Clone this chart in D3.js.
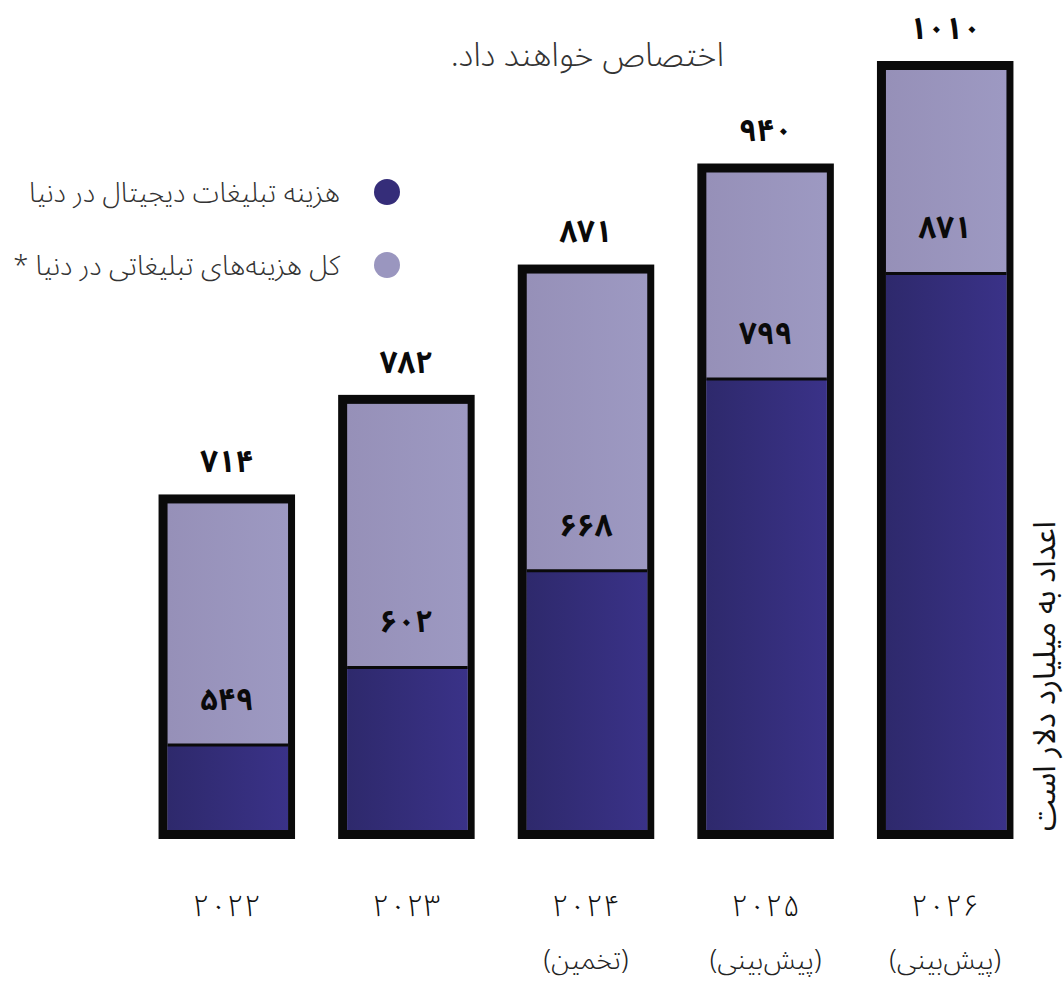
<!DOCTYPE html>
<html lang="fa">
<head>
<meta charset="utf-8">
<script src="https://cdn.jsdelivr.net/npm/d3@7"></script>
<style>
  html, body { margin: 0; padding: 0; background: #fff; }
  svg { display: block; }
  text { font-family: "Noto Sans Arabic", "DejaVu Sans", sans-serif; }
</style>
</head>
<body>
<svg id="chart" width="1064" height="984"></svg>
<script>
// Global advertising spend, billions of dollars
const years = ["2022", "2023", "2024", "2025", "2026"];
const yearNotes = ["", "", "(تخمین)", "(پیش‌بینی)", "(پیش‌بینی)"];
const totalSpend = [714, 782, 871, 940, 1010];
const digitalSpend = [549, 602, 668, 799, 871];
const legendLabels = ["هزینه تبلیغات دیجیتال در دنیا", "کل هزینه‌های تبلیغاتی در دنیا *"];
const titleText = "اختصاص خواهند داد.";
const unitNote = "اعداد به میلیارد دلار است";

const darkColor = "#352d79";
const lightColor = "#9a96bf";

const faDigits = "۰۱۲۳۴۵۶۷۸۹";
const fa = s => String(s).replace(/\d/g, d => faDigits[d]);

const svg = d3.select("#chart");
const defs = svg.append("defs");

const gDark = defs.append("linearGradient").attr("id", "gDark");
gDark.append("stop").attr("offset", "0%").attr("stop-color", "#2e296c");
gDark.append("stop").attr("offset", "100%").attr("stop-color", "#3a3288");
const gLight = defs.append("linearGradient").attr("id", "gLight");
gLight.append("stop").attr("offset", "0%").attr("stop-color", "#9690b8");
gLight.append("stop").attr("offset", "100%").attr("stop-color", "#9d99c2");

const x = d3.scaleBand()
  .domain(years)
  .range([137, 1035])
  .paddingInner(0.24)
  .paddingOuter(0.12);

const y = d3.scaleLinear()
  .domain([491, 1010])
  .range([830, 70]);

const border = 9;
const rows = years.map((yr, i) => ({
  year: yr, note: yearNotes[i], total: totalSpend[i], digital: digitalSpend[i]
}));

const bars = svg.append("g").selectAll("g.bar").data(rows).join("g").attr("class", "bar");

// heavy black outline around each bar
bars.append("rect")
  .attr("x", d => x(d.year))
  .attr("y", d => y(d.total) - border)
  .attr("width", x.bandwidth())
  .attr("height", d => y.range()[0] - y(d.total) + 2 * border)
  .attr("fill", "#0a0a0a");

// total spend (light)
bars.append("rect")
  .attr("x", d => x(d.year) + border)
  .attr("y", d => y(d.total))
  .attr("width", x.bandwidth() - 2 * border + 2)
  .attr("height", d => y.range()[0] - y(d.total))
  .attr("fill", "url(#gLight)");

// digital spend (dark)
bars.append("rect")
  .attr("x", d => x(d.year) + border)
  .attr("y", d => y(d.digital))
  .attr("width", x.bandwidth() - 2 * border + 2)
  .attr("height", d => y.range()[0] - y(d.digital))
  .attr("fill", "url(#gDark)");

// divider between the two parts
bars.append("line")
  .attr("x1", d => x(d.year) + border)
  .attr("x2", d => x(d.year) + x.bandwidth() - border + 2)
  .attr("y1", d => y(d.digital))
  .attr("y2", d => y(d.digital))
  .attr("stroke", "#0a0a0a")
  .attr("stroke-width", 3);

// value labels
const valueLabel = sel => sel
  .attr("x", d => x(d.year) + x.bandwidth() / 2)
  .attr("dy", "0.35em")
  .attr("text-anchor", "middle")
  .attr("font-size", 31)
  .attr("font-weight", 700)
  .attr("fill", "#0a0a0a");

bars.append("text").call(valueLabel)
  .attr("y", d => y(d.total) - 42)
  .text(d => fa(d.total));

bars.append("text").call(valueLabel)
  .attr("y", d => y(d.digital) - 46)
  .text(d => fa(d.digital));

// category axis
const xAxis = svg.append("g")
  .attr("transform", "translate(0,905)")
  .call(d3.axisBottom(x).tickSize(0).tickPadding(0).tickFormat(fa));
xAxis.select(".domain").remove();
xAxis.selectAll("text")
  .attr("dy", "0.35em")
  .attr("y", 0)
  .attr("font-size", 30)
  .attr("font-weight", 300)
  .attr("fill", "#111")
  .style("font-family", "\"Noto Sans Arabic\", \"DejaVu Sans\", sans-serif");

svg.append("g").selectAll("text").data(rows.filter(d => d.note)).join("text")
  .attr("x", d => x(d.year) + x.bandwidth() / 2)
  .attr("y", 960)
  .attr("dy", "0.35em")
  .attr("text-anchor", "middle")
  .attr("direction", "rtl")
  .attr("font-size", 27)
  .attr("font-weight", 300)
  .attr("fill", "#222")
  .text(d => d.note);

// legend
const legend = svg.append("g").selectAll("g").data(legendLabels).join("g")
  .attr("transform", (d, i) => `translate(387,${192 + i * 73})`);
legend.append("circle").attr("r", 13).attr("fill", (d, i) => i === 0 ? darkColor : lightColor);
legend.append("text")
  .attr("x", -47)
  .attr("dy", "0.35em")
  .attr("text-anchor", "start")
  .attr("direction", "rtl")
  .attr("font-size", 27.5)
  .attr("font-weight", 300)
  .attr("fill", "#333")
  .text(d => d);

// heading fragment
svg.append("text")
  .attr("x", 724)
  .attr("y", 54)
  .attr("dy", "0.35em")
  .attr("text-anchor", "start")
  .attr("direction", "rtl")
  .attr("font-size", 33)
  .attr("font-weight", 300)
  .attr("fill", "#333")
  .text(titleText);

// unit note, vertical on the right
svg.append("text")
  .attr("transform", "translate(1044,676) rotate(-90)")
  .attr("dy", "0.35em")
  .attr("text-anchor", "middle")
  .attr("direction", "rtl")
  .attr("font-size", 31)
  .attr("font-weight", 400)
  .attr("fill", "#111")
  .text(unitNote);
</script>
</body>
</html>
